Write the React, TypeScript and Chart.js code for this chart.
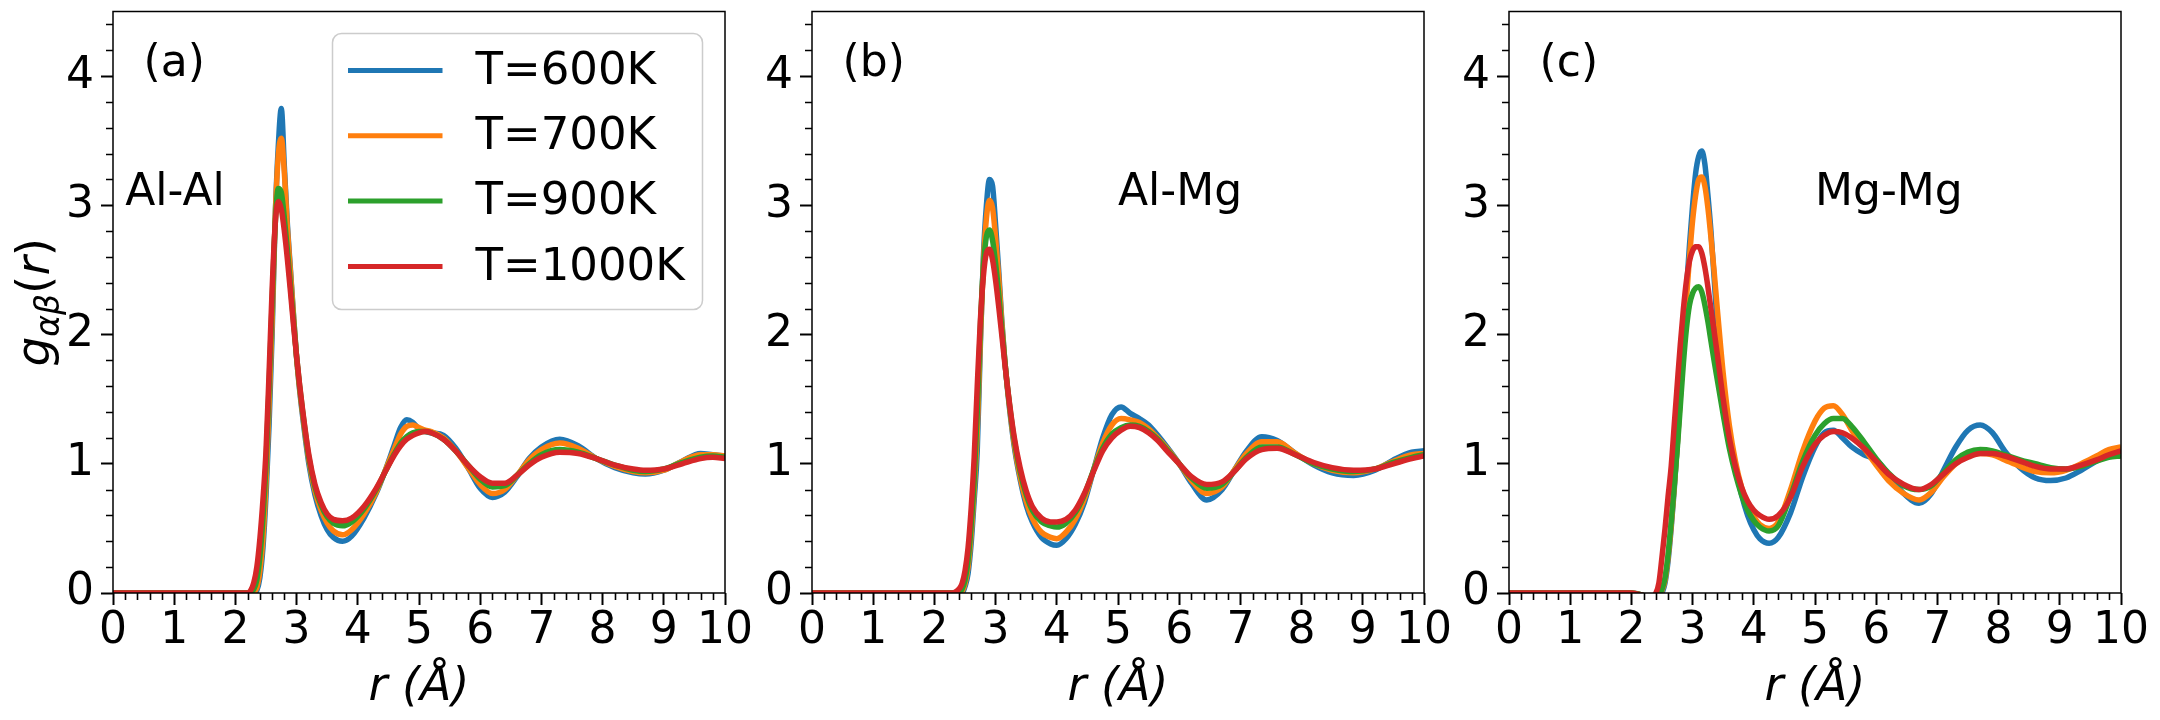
import React, { useEffect, useRef } from "react";
import { Chart, registerables } from "chart.js";

Chart.register(...registerables);

const FONT = "'DejaVu Sans', 'Liberation Sans', sans-serif";

const seriesLabels = ["T=600K", "T=700K", "T=900K", "T=1000K"];
const seriesColors = ["#1f77b4", "#ff7f0e", "#2ca02c", "#d62728"];

// ---------- Panel (a) Al-Al ----------
const rA = [0, 2.0, 2.2, 2.25, 2.3, 2.35, 2.4, 2.45, 2.5, 2.55,
  2.6, 2.65, 2.7, 2.75, 2.8, 2.85, 2.9, 2.95, 3.0, 3.05,
  3.1, 3.2, 3.3, 3.4, 3.5, 3.6, 3.75, 3.9, 4.1, 4.3,
  4.45, 4.6, 4.7, 4.8, 4.9, 5.0, 5.1, 5.2, 5.4, 5.6,
  5.8, 6.0, 6.2, 6.4, 6.6, 6.8, 7.0, 7.3, 7.6, 7.9,
  8.2, 8.5, 8.7, 9.0, 9.3, 9.6, 9.8, 10.0];
const gA600 = [0, 0, 0, 0, 0, 0.02, 0.12, 0.35, 0.75, 1.3,
  2.0, 2.9, 3.45, 3.75, 3.3, 2.85, 2.5, 2.15, 1.82, 1.57,
  1.36, 1.0, 0.76, 0.6, 0.49, 0.43, 0.40, 0.44, 0.58, 0.77,
  0.95, 1.15, 1.28, 1.34, 1.32, 1.27, 1.25, 1.24, 1.22, 1.12,
  0.97, 0.81, 0.74, 0.78, 0.9, 1.04, 1.13, 1.19, 1.14, 1.04,
  0.97, 0.93, 0.92, 0.95, 1.02, 1.08, 1.07, 1.06];
const gA700 = [0, 0, 0, 0, 0.01, 0.04, 0.17, 0.42, 0.85, 1.45,
  2.1, 2.9, 3.38, 3.52, 3.25, 2.82, 2.48, 2.14, 1.82, 1.58,
  1.38, 1.03, 0.79, 0.64, 0.54, 0.48, 0.45, 0.49, 0.61, 0.78,
  0.95, 1.12, 1.23, 1.29, 1.30, 1.28, 1.26, 1.25, 1.2, 1.1,
  0.97, 0.84, 0.77, 0.8, 0.91, 1.03, 1.11, 1.16, 1.12, 1.04,
  0.98, 0.94, 0.93, 0.95, 1.02, 1.07, 1.07, 1.06];
const gA900 = [0, 0, 0, 0.01, 0.03, 0.1, 0.28, 0.58, 1.0, 1.6,
  2.25, 2.85, 3.13, 3.1, 2.9, 2.65, 2.38, 2.1, 1.83, 1.6,
  1.4, 1.05, 0.82, 0.68, 0.59, 0.54, 0.52, 0.55, 0.65, 0.8,
  0.94, 1.08, 1.16, 1.21, 1.24, 1.25, 1.25, 1.24, 1.19, 1.1,
  0.99, 0.88, 0.82, 0.83, 0.91, 1.0, 1.07, 1.11, 1.09, 1.04,
  0.99, 0.95, 0.94, 0.96, 1.01, 1.05, 1.06, 1.05];
const gA1000 = [0, 0, 0, 0.02, 0.08, 0.2, 0.42, 0.72, 1.1, 1.7,
  2.35, 2.85, 3.03, 2.97, 2.8, 2.58, 2.33, 2.07, 1.83, 1.61,
  1.41, 1.07, 0.84, 0.7, 0.61, 0.57, 0.56, 0.58, 0.67, 0.81,
  0.94, 1.07, 1.14, 1.19, 1.22, 1.24, 1.25, 1.24, 1.19, 1.1,
  0.99, 0.9, 0.85, 0.85, 0.91, 0.99, 1.05, 1.09, 1.08, 1.04,
  0.99, 0.96, 0.95, 0.96, 1.0, 1.04, 1.05, 1.04];

// ---------- Panel (b) Al-Mg ----------
const rB = [0, 2.0, 2.3, 2.4, 2.45, 2.5, 2.55, 2.6, 2.65, 2.7,
  2.75, 2.8, 2.85, 2.9, 2.95, 3.0, 3.05, 3.1, 3.15, 3.2,
  3.3, 3.4, 3.5, 3.6, 3.75, 3.9, 4.0, 4.15, 4.3, 4.45,
  4.6, 4.75, 4.9, 5.05, 5.2, 5.35, 5.5, 5.65, 5.8, 6.0,
  6.2, 6.45, 6.7, 6.9, 7.1, 7.35, 7.6, 7.9, 8.2, 8.5,
  8.85, 9.2, 9.5, 9.8, 10.0];
const gB600 = [0, 0, 0, 0, 0, 0.05, 0.15, 0.38, 0.72, 1.1,
  1.9, 2.6, 3.0, 3.2, 3.15, 2.85, 2.5, 2.12, 1.8, 1.55,
  1.15, 0.88, 0.68, 0.55, 0.43, 0.38, 0.37, 0.42, 0.53, 0.7,
  0.95, 1.2, 1.38, 1.44, 1.39, 1.35, 1.3, 1.22, 1.13, 1.0,
  0.85, 0.72, 0.8, 0.95, 1.1, 1.21, 1.18, 1.08, 0.99, 0.93,
  0.91, 0.95, 1.03, 1.09, 1.1];
const gB700 = [0, 0, 0, 0, 0.01, 0.07, 0.2, 0.45, 0.8, 1.25,
  1.95, 2.55, 2.9, 3.04, 2.98, 2.75, 2.45, 2.1, 1.8, 1.56,
  1.17, 0.9, 0.71, 0.58, 0.47, 0.43, 0.42, 0.47, 0.57, 0.73,
  0.95, 1.16, 1.3, 1.35, 1.34, 1.32, 1.27, 1.2, 1.12, 1.0,
  0.87, 0.77, 0.82, 0.95, 1.08, 1.17, 1.17, 1.08, 1.0, 0.95,
  0.93, 0.96, 1.02, 1.07, 1.08];
const gB900 = [0, 0, 0, 0.01, 0.03, 0.1, 0.25, 0.52, 0.88, 1.4,
  2.05, 2.52, 2.76, 2.81, 2.73, 2.55, 2.32, 2.05, 1.8, 1.57,
  1.2, 0.94, 0.76, 0.64, 0.55, 0.52, 0.51, 0.54, 0.62, 0.76,
  0.95, 1.12, 1.23, 1.28, 1.3, 1.29, 1.25, 1.19, 1.11, 1.0,
  0.89, 0.81, 0.84, 0.94, 1.05, 1.13, 1.13, 1.07, 1.0, 0.96,
  0.94, 0.96, 1.01, 1.05, 1.07];
const gB1000 = [0, 0, 0, 0.03, 0.07, 0.17, 0.35, 0.65, 1.05, 1.6,
  2.1, 2.45, 2.63, 2.66, 2.58, 2.42, 2.22, 2.0, 1.78, 1.57,
  1.22, 0.97, 0.79, 0.67, 0.58, 0.55, 0.55, 0.57, 0.64, 0.77,
  0.94, 1.1, 1.2, 1.26, 1.29, 1.28, 1.24, 1.18, 1.1, 1.0,
  0.9, 0.84, 0.86, 0.94, 1.04, 1.11, 1.12, 1.07, 1.01, 0.97,
  0.95, 0.96, 1.0, 1.04, 1.06];

// ---------- Panel (c) Mg-Mg ----------
const rC = [0, 2.0, 2.2, 2.3, 2.4, 2.45, 2.5, 2.55, 2.6, 2.65,
  2.7, 2.75, 2.8, 2.85, 2.9, 2.95, 3.0, 3.05, 3.1, 3.15,
  3.2, 3.25, 3.3, 3.35, 3.4, 3.5, 3.6, 3.7, 3.8, 3.9,
  4.0, 4.1, 4.25, 4.4, 4.6, 4.8, 5.0, 5.15, 5.3, 5.45,
  5.6, 5.8, 6.0, 6.2, 6.45, 6.7, 6.9, 7.1, 7.3, 7.5,
  7.7, 7.9, 8.1, 8.35, 8.6, 8.85, 9.1, 9.35, 9.6, 9.8,
  10.0];
const gC600 = [0, 0, -0.02, -0.05, -0.05, -0.03, 0.0, 0.08, 0.25, 0.5,
  0.8, 1.15, 1.55, 1.95, 2.35, 2.7, 3.0, 3.25, 3.38, 3.42,
  3.32, 3.08, 2.8, 2.45, 2.1, 1.62, 1.25, 0.98, 0.76, 0.6,
  0.49, 0.42, 0.385, 0.43, 0.62, 0.9, 1.13, 1.24, 1.26, 1.2,
  1.13, 1.07, 1.03, 0.92, 0.77, 0.695, 0.77, 0.95, 1.13, 1.26,
  1.30, 1.24, 1.1, 0.97, 0.89, 0.87, 0.89, 0.95, 1.02, 1.07,
  1.1];
const gC700 = [0, 0, -0.02, -0.04, -0.04, -0.02, 0.02, 0.1, 0.28, 0.52,
  0.82, 1.15, 1.52, 1.9, 2.28, 2.6, 2.88, 3.08, 3.2, 3.22,
  3.15, 2.98, 2.75, 2.5, 2.22, 1.7, 1.3, 1.02, 0.82, 0.68,
  0.59, 0.53, 0.5, 0.55, 0.8, 1.1, 1.33, 1.43, 1.45, 1.38,
  1.26, 1.12, 0.99, 0.87, 0.77, 0.72, 0.78, 0.9, 1.0, 1.06,
  1.08, 1.07, 1.03, 0.98, 0.94, 0.93, 0.95, 1.0, 1.06, 1.11,
  1.13];
const gC900 = [0, 0, -0.02, -0.04, -0.03, -0.01, 0.03, 0.12, 0.3, 0.55,
  0.83, 1.12, 1.45, 1.78, 2.05, 2.23, 2.32, 2.36, 2.37, 2.33,
  2.23, 2.1, 1.95, 1.8, 1.66, 1.38, 1.12, 0.92, 0.76, 0.64,
  0.56, 0.51, 0.48, 0.52, 0.75, 1.02, 1.22, 1.31, 1.35, 1.35,
  1.29, 1.17, 1.04, 0.93, 0.83, 0.8, 0.83, 0.93, 1.03, 1.09,
  1.11, 1.1, 1.07, 1.03, 1.0, 0.97, 0.96, 0.98, 1.02, 1.05,
  1.06];
const gC1000 = [0, 0, -0.02, -0.03, 0.0, 0.08, 0.28, 0.5, 0.75, 0.98,
  1.3, 1.62, 1.93, 2.2, 2.42, 2.57, 2.65, 2.68, 2.68, 2.63,
  2.52, 2.37, 2.2, 2.03, 1.86, 1.5, 1.2, 0.98, 0.82, 0.71,
  0.64, 0.6, 0.57, 0.6, 0.74, 0.98, 1.15, 1.22, 1.25, 1.24,
  1.2, 1.12, 1.02, 0.92, 0.84, 0.8, 0.84, 0.92, 1.0, 1.05,
  1.08, 1.08, 1.06, 1.02, 0.98, 0.96, 0.96, 0.99, 1.03, 1.07,
  1.1];

const panelTags = ["(a)", "(b)", "(c)"];
const pairNames = ["Al-Al", "Al-Mg", "Mg-Mg"];
const pairX = [0.2, 5.0, 5.0];
const pairY = 3.0;
const tagX = 0.5;
const tagY = 4.0;
const xTitle = "r (Å)";

const panels = [
  { r: rA, g: [gA600, gA700, gA900, gA1000], left: 0, legend: true, yTitle: true },
  { r: rB, g: [gB600, gB700, gB900, gB1000], left: 699, legend: false, yTitle: false },
  { r: rC, g: [gC600, gC700, gC900, gC1000], left: 1396, legend: false, yTitle: false },
];

const CANVAS_W = 770;
const CANVAS_H = 720;

function makeDecor(idx: number, cfg: any) {
  return {
    id: "decor" + idx,
    afterDatasetsDraw(chart: any) {
      const ctx = chart.ctx;
      const ca = chart.chartArea;
      const xs = chart.scales.x;
      const ys = chart.scales.y;
      ctx.save();
      // frame
      ctx.strokeStyle = "#000";
      ctx.lineWidth = 1.5;
      ctx.strokeRect(ca.left, ca.top, ca.right - ca.left, ca.bottom - ca.top);
      // minor ticks
      ctx.lineWidth = 1.6;
      ctx.beginPath();
      for (let k = 1; k < 50; k++) {
        if (k % 5 === 0) continue;
        const px = Math.round(xs.getPixelForValue(k / 5)) + 0.5;
        ctx.moveTo(px, ca.bottom);
        ctx.lineTo(px, ca.bottom + 7);
      }
      for (let k = 1; k < 23; k++) {
        if (k % 5 === 0) continue;
        const py = Math.round(ys.getPixelForValue(k / 5)) + 0.5;
        ctx.moveTo(ca.left, py);
        ctx.lineTo(ca.left - 7, py);
      }
      ctx.stroke();
      // annotations
      ctx.fillStyle = "#000";
      ctx.textAlign = "left";
      ctx.textBaseline = "alphabetic";
      ctx.font = `44px ${FONT}`;
      ctx.fillText(panelTags[idx], xs.getPixelForValue(tagX), ys.getPixelForValue(tagY));
      ctx.fillText(pairNames[idx], xs.getPixelForValue(pairX[idx]), ys.getPixelForValue(pairY));

      // legend
      if (cfg.legend) {
        const bx = ca.left + 219.5;
        const by = ca.top + 22;
        const bw = 370;
        const bh = 276;
        ctx.beginPath();
        if (ctx.roundRect) ctx.roundRect(bx, by, bw, bh, 9);
        else ctx.rect(bx, by, bw, bh);
        ctx.fillStyle = "rgba(255,255,255,0.8)";
        ctx.fill();
        ctx.strokeStyle = "#cccccc";
        ctx.lineWidth = 1.5;
        ctx.stroke();
        chart.data.datasets.forEach((ds: any, i: number) => {
          const yy = by + 37 + i * 65.3;
          ctx.strokeStyle = ds.borderColor;
          ctx.lineWidth = 5;
          ctx.beginPath();
          ctx.moveTo(bx + 15.5, yy);
          ctx.lineTo(bx + 110, yy);
          ctx.stroke();
          ctx.fillStyle = "#000";
          ctx.font = `45px ${FONT}`;
          ctx.textBaseline = "middle";
          ctx.fillText(ds.label, bx + 143, yy + 1.5);
        });
      }

      // y axis title g_{αβ}(r)
      if (cfg.yTitle) {
        const parts = [
          { t: "g", f: `italic 47px ${FONT}`, dy: 0 },
          { t: "αβ", f: `italic 33px ${FONT}`, dy: 10 },
          { t: "(", f: `47px ${FONT}`, dy: 0 },
          { t: "r", f: `italic 47px ${FONT}`, dy: 0 },
          { t: ")", f: `47px ${FONT}`, dy: 0 },
        ];
        let total = 0;
        const widths = parts.map((p) => {
          ctx.font = p.f;
          const w = ctx.measureText(p.t).width;
          total += w;
          return w;
        });
        ctx.translate(36, (ca.top + ca.bottom) / 2);
        ctx.rotate(-Math.PI / 2);
        ctx.textBaseline = "alphabetic";
        ctx.fillStyle = "#000";
        let cx = -total / 2;
        parts.forEach((p, i) => {
          ctx.font = p.f;
          ctx.fillText(p.t, cx, 13 + p.dy);
          cx += widths[i];
        });
      }
      ctx.restore();
    },
  };
}

function Panel({ idx }: { idx: number }) {
  const ref = useRef<HTMLCanvasElement>(null);
  const cfg: any = panels[idx];
  useEffect(() => {
    const canvas = ref.current as HTMLCanvasElement;
    const tickFont = { family: FONT, size: 44 };
    const chart = new Chart(canvas, {
      type: "line",
      data: {
        datasets: cfg.g.map((ys: number[], i: number) => ({
          label: seriesLabels[i],
          data: cfg.r.map((x: number, j: number) => ({ x, y: ys[j] })),
          borderColor: seriesColors[i],
          backgroundColor: seriesColors[i],
          borderWidth: 5.5,
          pointRadius: 0,
          pointHoverRadius: 0,
          fill: false,
          cubicInterpolationMode: "monotone",
          clip: 0,
          order: 4 - i,
        })),
      },
      options: {
        animation: false,
        responsive: false,
        events: [],
        layout: { padding: { left: 0, right: CANVAS_W - 113 - 612, top: 11.5, bottom: 0 } },
        plugins: {
          legend: { display: false },
          tooltip: { enabled: false },
          title: { display: false },
        },
        scales: {
          x: {
            type: "linear",
            position: "bottom",
            min: 0,
            max: 10,
            ticks: {
              stepSize: 1,
              includeBounds: false,
              autoSkip: false,
              maxRotation: 0,
              padding: 0,
              color: "#000",
              font: tickFont,
            },
            grid: {
              display: true,
              drawOnChartArea: false,
              drawTicks: true,
              tickLength: 12,
              tickWidth: 2,
              tickColor: "#000",
            },
            border: { display: false },
            title: {
              display: true,
              text: xTitle,
              color: "#000",
              font: { family: FONT, size: 46, style: "italic" },
              padding: { top: 0, bottom: 4 },
            },
            afterFit: (s: any) => {
              s.height = CANVAS_H - 593;
              s.paddingLeft = 0;
              s.paddingRight = 0;
            },
          },
          y: {
            type: "linear",
            min: 0,
            max: 4.5,
            ticks: {
              stepSize: 1,
              includeBounds: false,
              autoSkip: false,
              padding: 7,
              color: "#000",
              font: tickFont,
            },
            grid: {
              display: true,
              drawOnChartArea: false,
              drawTicks: true,
              tickLength: 12,
              tickWidth: 2,
              tickColor: "#000",
            },
            border: { display: false },
            afterFit: (s: any) => {
              s.width = 113;
              s.paddingTop = 0;
              s.paddingBottom = 0;
            },
          },
        },
      } as any,
      plugins: [makeDecor(idx, cfg)],
    });
    return () => chart.destroy();
  }, []);
  return (
    <canvas
      ref={ref}
      width={CANVAS_W}
      height={CANVAS_H}
      style={{ position: "absolute", left: cfg.left, top: 0, width: CANVAS_W, height: CANVAS_H }}
    />
  );
}

export default function App() {
  return (
    <div
      style={{
        position: "absolute",
        left: 0,
        top: 0,
        width: 2160,
        height: 720,
        overflow: "hidden",
        background: "#ffffff",
      }}
    >
      {panels.map((_, i) => (
        <Panel key={i} idx={i} />
      ))}
    </div>
  );
}
